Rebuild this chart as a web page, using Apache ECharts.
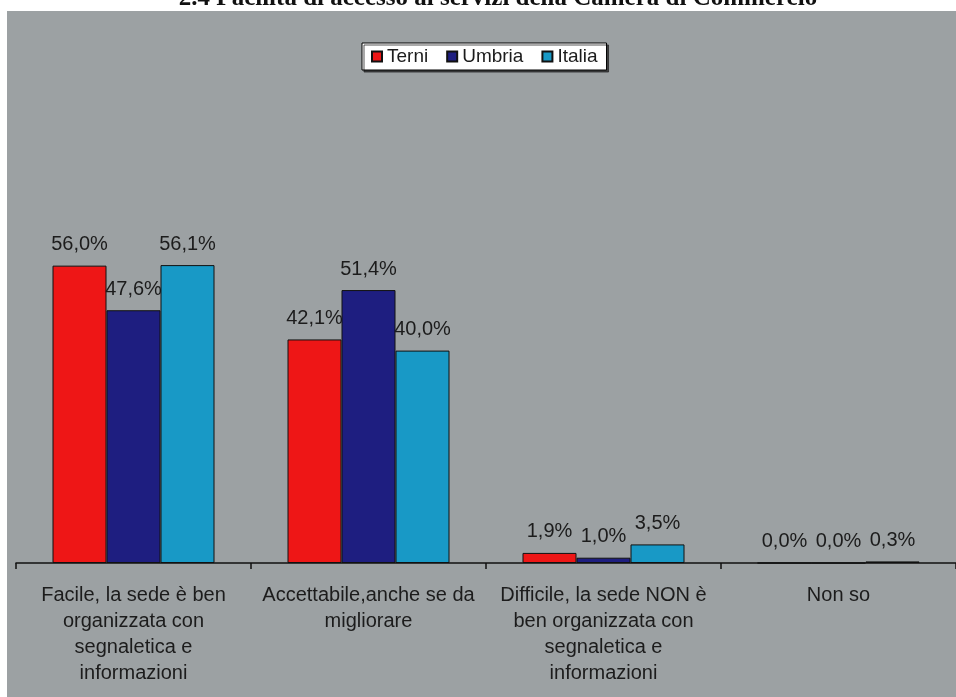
<!DOCTYPE html>
<html>
<head>
<meta charset="utf-8">
<title>Facilità di accesso</title>
<script src="https://cdn.jsdelivr.net/npm/echarts@6/dist/echarts.min.js"></script>
<style>
  html, body { margin: 0; padding: 0; background: #ffffff; }
  #chart { width: 956px; height: 697px; }
</style>
</head>
<body>
<div id="chart"></div>
<script>
// Response categories (x axis)
const categories = [
  'Facile, la sede è ben\norganizzata con\nsegnaletica e\ninformazioni',
  'Accettabile,anche se da\nmigliorare',
  'Difficile, la sede NON è\nben organizzata con\nsegnaletica e\ninformazioni',
  'Non so'
];

// Percentages per area
const terni  = [56.0, 42.1, 1.9, 0.0];
const umbria = [47.6, 51.4, 1.0, 0.0];
const italia = [56.1, 40.0, 3.5, 0.3];

const seriesNames  = ['Terni', 'Umbria', 'Italia'];
const seriesColors = ['#ee1616', '#1e1e80', '#1899c6'];

const FONT = '"Liberation Sans", Arial, sans-serif';

const fmt = v => v.toFixed(1).replace('.', ',') + '%';

function barSeries(name, data, color) {
  return {
    name: name,
    type: 'bar',
    data: data,
    barWidth: 54,
    barGap: '0%',
    itemStyle: { color: color, borderColor: '#111111', borderWidth: 1 },
    label: {
      show: true,
      position: 'top',
      distance: 11,
      formatter: p => fmt(p.value),
      color: '#1c1c1c',
      fontFamily: FONT,
      fontSize: 20
    }
  };
}

const chart = echarts.init(document.getElementById('chart'), null, { renderer: 'canvas' });

chart.setOption({
  backgroundColor: '#ffffff',
  animation: false,
  graphic: [
    {
      type: 'text',
      z: -20,
      silent: true,
      x: 498,
      y: 11,
      style: {
        text: '2.4 Facilità di accesso ai servizi della Camera di Commercio',
        font: 'bold 25px "Liberation Serif", "Times New Roman", serif',
        fill: '#111111',
        align: 'center',
        verticalAlign: 'bottom'
      }
    },
    {
      type: 'rect',
      z: -10,
      silent: true,
      shape: { x: 7, y: 11, width: 949, height: 686 },
      style: { fill: '#9ca1a3' }
    }
  ],
  legend: {
    data: seriesNames,
    left: 362,
    top: 43,
    orient: 'horizontal',
    itemWidth: 10,
    itemHeight: 10,
    itemGap: 18,
    padding: [4, 9, 4, 9],
    backgroundColor: '#ffffff',
    borderColor: '#000000',
    borderWidth: 1,
    shadowColor: 'rgba(40,40,40,0.8)',
    shadowOffsetX: 2,
    shadowOffsetY: 2,
    shadowBlur: 0,
    icon: 'rect',
    textStyle: { fontFamily: FONT, fontSize: 19, color: '#1c1c1c' }
  },
  grid: { left: 16, width: 944, top: 32, bottom: 134, containLabel: false },
  xAxis: {
    type: 'category',
    data: categories,
    boundaryGap: true,
    axisLine: { show: true, lineStyle: { color: '#111111', width: 1.5 } },
    axisTick: { show: true, alignWithLabel: false, length: 6, lineStyle: { color: '#111111', width: 1.5 } },
    axisLabel: {
      interval: 0,
      margin: 19,
      fontFamily: FONT,
      fontSize: 20,
      lineHeight: 26,
      color: '#1c1c1c',
      align: 'center'
    }
  },
  yAxis: {
    type: 'value',
    min: 0,
    max: 100,
    show: false,
    splitLine: { show: false }
  },
  series: [
    barSeries(seriesNames[0], terni, seriesColors[0]),
    barSeries(seriesNames[1], umbria, seriesColors[1]),
    barSeries(seriesNames[2], italia, seriesColors[2])
  ]
});
</script>
</body>
</html>
